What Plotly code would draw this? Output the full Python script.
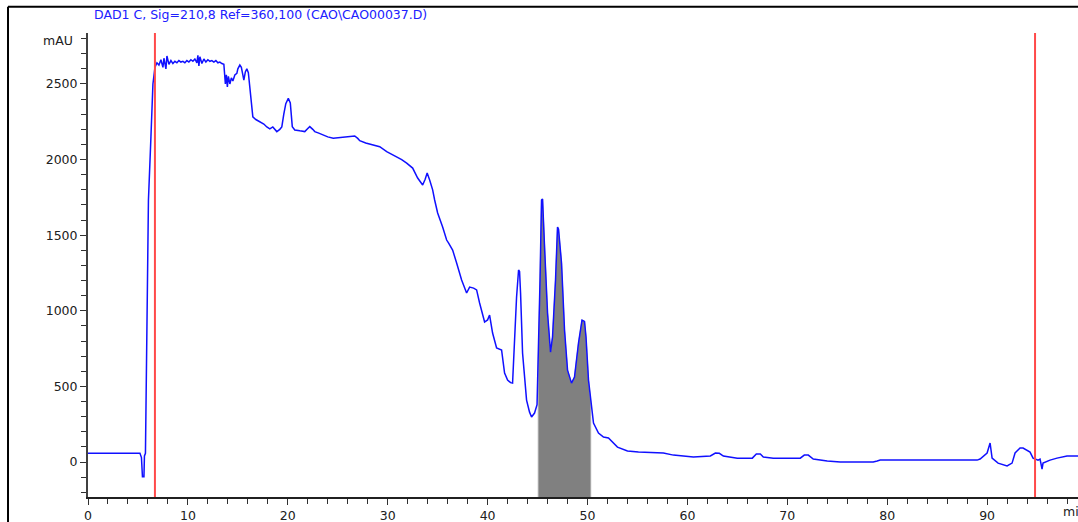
import plotly.graph_objects as go

# ---- data ----
time_min = [0.0, 2.0, 4.0, 5.2, 5.35, 5.45, 5.6, 5.65, 5.75, 5.8, 5.85, 5.95, 6.05, 6.3, 6.5, 6.7,
    6.9, 7.1, 7.3, 7.5, 7.6, 7.8, 7.9, 8.1, 8.3, 8.5, 8.7, 8.9, 9.1, 9.3, 9.5, 9.7, 9.9, 10.1, 10.3,
    10.5, 10.7, 10.9, 11.0, 11.1, 11.2, 11.4, 11.6, 11.8, 12.0, 12.2, 12.4, 12.6, 12.8, 13.0, 13.2,
    13.4, 13.6, 13.75, 13.85, 13.95, 14.05, 14.2, 14.35, 14.5, 14.7, 14.9, 15.0, 15.2, 15.35, 15.5,
    15.6, 15.75, 15.9, 16.05, 16.2, 16.35, 16.5, 16.8, 17.2, 17.6, 17.9, 18.2, 18.5, 18.9, 19.2, 19.4,
    19.6, 19.8, 20.05, 20.25, 20.45, 20.7, 21.2, 21.7, 22.0, 22.2, 22.5, 22.7, 23.1, 23.55, 24.0,
    24.55, 25.2, 25.9, 26.4, 26.7, 27.0, 27.2, 27.8, 28.5, 29.2, 29.9, 30.4, 30.9, 31.4, 31.9, 32.5,
    33.0, 33.5, 33.75, 33.95, 34.2, 34.5, 34.7, 35.0, 35.5, 35.9, 36.1, 36.5, 36.9, 37.4, 37.9, 38.2,
    38.6, 38.9, 39.2, 39.7, 40.0, 40.2, 40.5, 40.9, 41.4, 41.7, 42.0, 42.3, 42.5, 42.7, 42.9, 43.1,
    43.2, 43.3, 43.5, 43.9, 44.2, 44.4, 44.7, 44.95, 45.07, 45.25, 45.4, 45.5, 45.7, 46.0, 46.3, 46.5,
    46.8, 47.0, 47.1, 47.4, 47.7, 48.0, 48.4, 48.7, 49.1, 49.45, 49.7, 49.85, 50.1, 50.32, 50.6, 51.1,
    51.6, 52.1, 53.0, 54.0, 55.1, 57.6, 58.6, 60.6, 62.3, 62.8, 63.2, 63.6, 65.0, 66.5, 66.9, 67.3,
    67.6, 68.6, 71.3, 71.7, 72.1, 72.6, 74.0, 75.3, 78.6, 79.0, 79.3, 89.0, 89.3, 90.0, 90.3, 90.5,
    91.1, 92.0, 92.5, 92.8, 93.3, 93.6, 94.3, 94.6, 95.1, 95.3, 95.5, 95.6, 96.3, 97.0, 98.0, 99.1]

signal_mau = [58, 58, 58, 58, 30, -97, -97, 40, 58, 300, 550, 1100, 1733, 2150, 2500, 2610,
    2640, 2625, 2660, 2610, 2670, 2600, 2685, 2630, 2655, 2635, 2650, 2640, 2655, 2645, 2650, 2640,
    2655, 2645, 2660, 2650, 2665, 2640, 2690, 2620, 2680, 2635, 2665, 2645, 2660, 2650, 2655, 2645,
    2655, 2640, 2645, 2635, 2630, 2500, 2560, 2480, 2550, 2500, 2540, 2520, 2560, 2570, 2600, 2625,
    2610, 2560, 2526, 2580, 2600, 2575, 2480, 2400, 2282, 2265, 2251, 2235, 2216, 2203, 2216, 2185,
    2200, 2216, 2300, 2370, 2405, 2374, 2218, 2196, 2190, 2185, 2205, 2218, 2200, 2185, 2175, 2163,
    2150, 2141, 2145, 2147, 2150, 2156, 2140, 2125, 2110, 2096, 2085, 2052, 2035, 2019, 2000, 1977,
    1944, 1878, 1832, 1870, 1911, 1865, 1800, 1733, 1647, 1554, 1468, 1448, 1402, 1316, 1204, 1118,
    1157, 1150, 1138, 1052, 926, 940, 972, 853, 754, 741, 589, 542, 525, 522, 807, 1091, 1270, 1260,
    1118, 721, 410, 330, 298, 324, 380, 655, 1204, 1733, 1740, 1422, 985, 727, 827, 1204, 1554, 1540,
    1316, 873, 608, 522, 562, 787, 939, 930, 827, 542, 400, 258, 192, 165, 159, 99, 73, 66, 60, 46,
    33, 40, 60, 58, 40, 26, 26, 53, 53, 33, 26, 26, 46, 46, 20, 7, 0, 0, 7, 13, 13, 20, 60, 126, 26,
    -7, -26, -7, 60, 93, 93, 66, 26, 13, 20, -46, -7, 13, 26, 40, 40]

integration_window = [45.07, 50.32]      # shaded peak region (min)
marker_times = [6.7, 94.8]               # red event lines (min)
x_ticks = [0, 10, 20, 30, 40, 50, 60, 70, 80, 90]
y_ticks = [0, 500, 1000, 1500, 2000, 2500]
X_RANGE = [0, 99.1]
Y_RANGE = [-231, 2837]
title_text = "DAD1 C, Sig=210,8 Ref=360,100 (CAO\\CAO00037.D)"

FONT = "DejaVu Sans"
FS = 12.5

fig = go.Figure()

# shaded integrated area
fx, fy = [], []
for t, v in zip(time_min, signal_mau):
    if integration_window[0] <= t <= integration_window[1]:
        fx.append(t)
        fy.append(v)
poly_x = [fx[0]] + fx + [fx[-1]]
poly_y = [Y_RANGE[0]] + fy + [Y_RANGE[0]]
fig.add_trace(go.Scatter(x=poly_x, y=poly_y, fill="toself", fillcolor="#808080",
                         line=dict(color="#a8a8a8", width=1), mode="lines",
                         hoverinfo="skip", showlegend=False))

fig.add_trace(go.Scatter(x=time_min, y=signal_mau, mode="lines",
                         line=dict(color="#1010ff", width=1.5), showlegend=False))

shapes = []
for t in marker_times:
    shapes.append(dict(type="line", xref="x", yref="paper", x0=t, x1=t, y0=0, y1=1,
                       line=dict(color="#ff4a4a", width=2)))
# outer frame (top and left visible)
shapes.append(dict(type="line", xref="paper", yref="paper", x0=-0.0808, x1=1.05,
                   y0=1.0565, y1=1.0565, line=dict(color="black", width=2)))
shapes.append(dict(type="line", xref="paper", yref="paper", x0=-0.0808, x1=-0.0808,
                   y0=1.0565, y1=-0.1, line=dict(color="black", width=2)))

annotations = [
    dict(text=title_text, xref="paper", yref="paper", x=0.004, y=1.0388,
         xanchor="left", yanchor="middle", showarrow=False,
         font=dict(family=FONT, size=FS, color="#2020ff")),
    dict(text="mAU", xref="paper", yref="y", x=-0.0131, y=2785,
         xanchor="right", yanchor="middle", showarrow=False,
         font=dict(family=FONT, size=FS, color="#202020")),
    dict(text="min", xref="x", yref="paper", x=97.4, y=-0.032,
         xanchor="left", yanchor="middle", showarrow=False,
         font=dict(family=FONT, size=FS, color="#202020")),
]

fig.update_layout(
    width=1078, height=522,
    margin=dict(l=88, r=0, t=33, b=25),
    paper_bgcolor="white", plot_bgcolor="white",
    shapes=shapes, annotations=annotations,
    font=dict(family=FONT, size=FS, color="#202020"),
    xaxis=dict(range=X_RANGE, tickvals=x_ticks, ticks="outside", ticklen=6, tickwidth=1,
               tickcolor="#303030", showline=True, linecolor="#202020", linewidth=2,
               showgrid=False, zeroline=False,
               minor=dict(dtick=2, ticks="outside", ticklen=5, tickcolor="#303030", showgrid=False)),
    yaxis=dict(range=Y_RANGE, tickvals=y_ticks, ticks="outside", ticklen=6, tickwidth=1,
               tickcolor="#303030", showline=True, linecolor="#404040", linewidth=2,
               showgrid=False, zeroline=False,
               minor=dict(dtick=100, ticks="outside", ticklen=5, tickcolor="#303030", showgrid=False)),
)

fig.write_html("out.html")
